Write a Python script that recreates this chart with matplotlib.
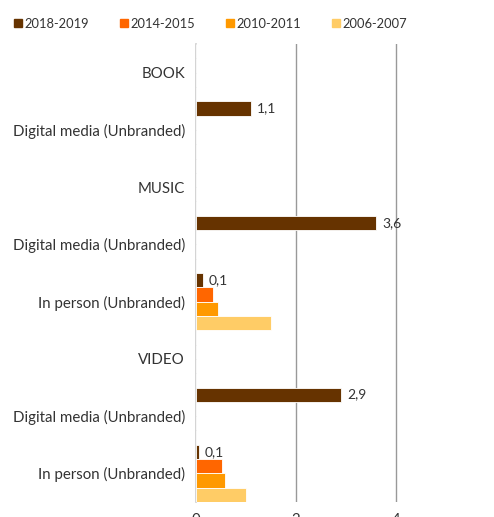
import matplotlib
matplotlib.use("Agg")
import matplotlib.pyplot as plt
from matplotlib.lines import Line2D
import numpy as np

plt.rcParams['font.family'] = ['Lato', 'DejaVu Sans']

categories = ["BOOK", "Digital media (Unbranded)", "MUSIC", "Digital media (Unbranded)",
              "In person (Unbranded)", "VIDEO", "Digital media (Unbranded)", "In person (Unbranded)"]
series_names = ["2018-2019", "2014-2015", "2010-2011", "2006-2007"]
colors = ["#663300", "#FF6600", "#FF9900", "#FFCC66"]
s2018 = [0, 1.1, 0, 3.6, 0.14, 0, 2.9, 0.06]
s2014 = [0, 0, 0, 0, 0.33, 0, 0, 0.51]
s2010 = [0, 0, 0, 0, 0.43, 0, 0, 0.58]
s2006 = [0, 0, 0, 0, 1.5, 0, 0, 1.0]
labels2018 = ["", "1,1", "", "3,6", "0,1", "", "2,9", "0,1"]
xticks = [0, 2, 4, 6]

W, H = 494, 517
fig = plt.figure(figsize=(W / 100, H / 100), dpi=100)
left, right, top, bottom = 196, 496, 44, 502
ax = fig.add_axes([left / W, 1 - bottom / H, (right - left) / W, (bottom - top) / H])

n = len(categories)
y = np.arange(n)
h = 0.25
allseries = [s2018, s2014, s2010, s2006]
for i, (vals, c) in enumerate(zip(allseries, colors)):
    off = (i - 1.5) * h
    ax.barh(y + off, vals, height=h, color=c, edgecolor="white", linewidth=0.6, zorder=3)
for yi, v, lab in zip(y, s2018, labels2018):
    if lab:
        ax.text(v + 0.12, yi - 1.5 * h, lab, va="center", ha="left", fontsize=10, color="#333333")

ax.set_ylim(n - 0.5, -0.5)
ax.set_xlim(0, 6)
ax.set_yticks(y)
ax.set_yticklabels(categories, fontsize=10.8, color="#333333")
ax.set_xticks(xticks)
ax.set_xticklabels([str(t) for t in xticks], fontsize=10.8, color="#333333")
ax.tick_params(axis="y", length=0, pad=8)
ax.tick_params(axis="x", length=0, pad=8)
for s in ["top", "right", "bottom"]:
    ax.spines[s].set_visible(False)
ax.spines["left"].set_color("#cccccc")
ax.spines["left"].set_linewidth(1.2)
for t in [2, 4, 6]:
    ax.axvline(t, color="#999999", linewidth=1, zorder=1)

handles = [Line2D([0], [0], marker="s", linestyle="none", markersize=6,
                  markerfacecolor=c, markeredgecolor=c) for c in colors]
leg = fig.legend(handles, series_names, loc="upper left", bbox_to_anchor=(4 / W, 1.0 - 10 / H),
                 ncol=4, frameon=False, fontsize=9.3, handletextpad=0.0,
                 columnspacing=2.2, handlelength=1.0, borderaxespad=0.2)
for t in leg.get_texts():
    t.set_color("#333333")

fig.savefig("out.png", dpi=100)
